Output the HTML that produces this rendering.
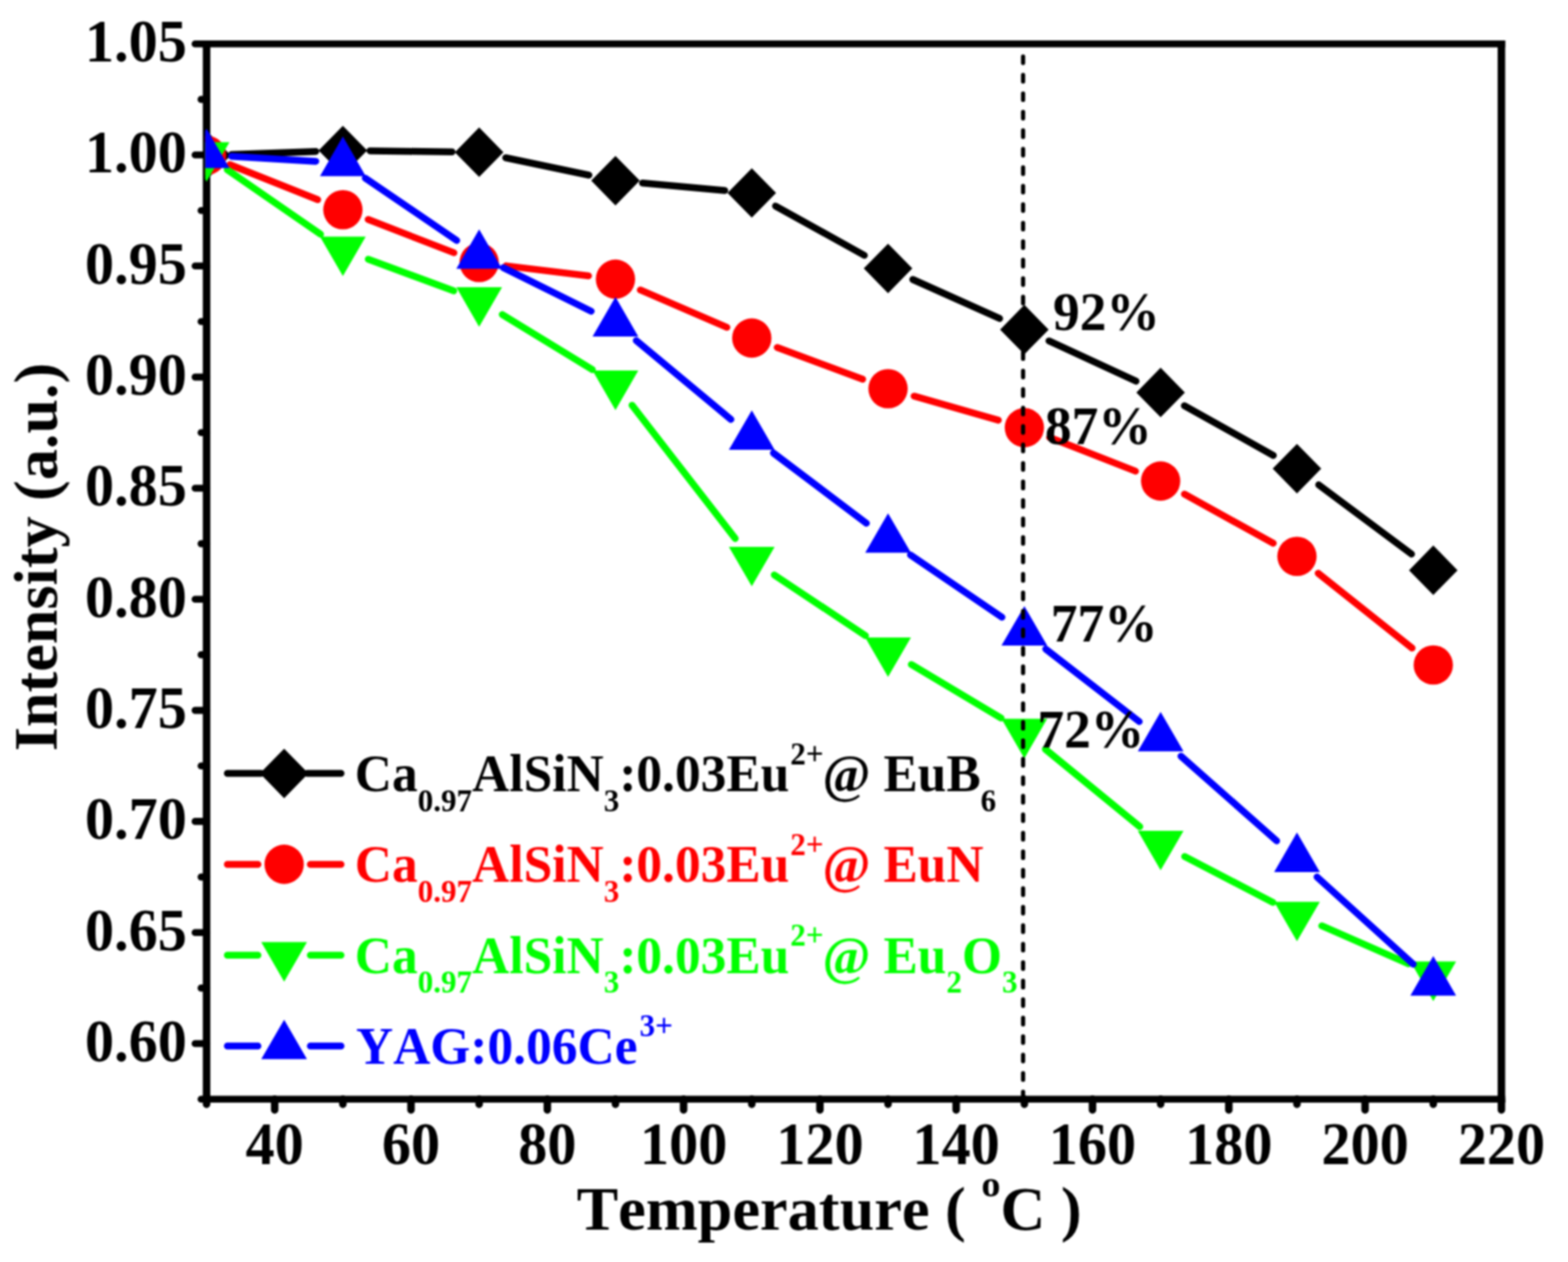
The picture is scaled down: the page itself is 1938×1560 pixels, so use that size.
<!DOCTYPE html>
<html lang="en"><head><meta charset="utf-8"><title>Intensity vs Temperature</title>
<style>
html,body{margin:0;padding:0;background:#fff;}
body{width:1938px;height:1560px;overflow:hidden;}
svg{display:block;filter:blur(0.8px);}
text{font-family:"Liberation Serif", "Times New Roman", Times, serif;font-weight:bold;font-kerning:none;font-variant-ligatures:none;}
</style></head><body>
<svg width="1938" height="1560" viewBox="0 0 1938 1560">
<rect width="1938" height="1560" fill="#fff"/>
<defs><clipPath id="plot"><rect x="253.60" y="49.55" width="1609.70" height="1313.80"/></clipPath></defs>

<path d="M255.3,49.90V1363.00M1855.7,49.90V1363.00" stroke="#000" stroke-width="9.3" fill="none"/>
<path d="M250.65,54.2H1860.35M250.65,1358.7H1860.35" stroke="#000" stroke-width="8.6" fill="none"/>
<path d="M255.3,54.2h-14.2 M255.3,122.9h-6.8 M255.3,191.5h-14.2 M255.3,260.2h-6.8 M255.3,328.8h-14.2 M255.3,397.5h-6.8 M255.3,466.1h-14.2 M255.3,534.8h-6.8 M255.3,603.5h-14.2 M255.3,672.1h-6.8 M255.3,740.8h-14.2 M255.3,809.4h-6.8 M255.3,878.1h-14.2 M255.3,946.8h-6.8 M255.3,1015.4h-14.2 M255.3,1084.1h-6.8 M255.3,1152.7h-14.2 M255.3,1221.4h-6.8 M255.3,1290.0h-14.2 M255.3,1358.7h-6.8" stroke="#000" stroke-width="8.6" fill="none" stroke-linecap="round"/>
<path d="M255.3,1358.7v6.3 M339.5,1358.7v13.3 M423.8,1358.7v6.3 M508.0,1358.7v13.3 M592.2,1358.7v6.3 M676.5,1358.7v13.3 M760.7,1358.7v6.3 M844.9,1358.7v13.3 M929.2,1358.7v6.3 M1013.4,1358.7v13.3 M1097.6,1358.7v6.3 M1181.8,1358.7v13.3 M1266.1,1358.7v6.3 M1350.3,1358.7v13.3 M1434.5,1358.7v6.3 M1518.8,1358.7v13.3 M1603.0,1358.7v6.3 M1687.2,1358.7v13.3 M1771.5,1358.7v6.3 M1855.7,1358.7v13.3" stroke="#000" stroke-width="9.3" fill="none" stroke-linecap="round"/>
<text transform="translate(231,76.0) scale(1,1.015)" font-size="72" text-anchor="end">1.05</text>
<text transform="translate(231,213.3) scale(1,1.015)" font-size="72" text-anchor="end">1.00</text>
<text transform="translate(231,350.6) scale(1,1.015)" font-size="72" text-anchor="end">0.95</text>
<text transform="translate(231,487.9) scale(1,1.015)" font-size="72" text-anchor="end">0.90</text>
<text transform="translate(231,625.3) scale(1,1.015)" font-size="72" text-anchor="end">0.85</text>
<text transform="translate(231,762.6) scale(1,1.015)" font-size="72" text-anchor="end">0.80</text>
<text transform="translate(231,899.9) scale(1,1.015)" font-size="72" text-anchor="end">0.75</text>
<text transform="translate(231,1037.2) scale(1,1.015)" font-size="72" text-anchor="end">0.70</text>
<text transform="translate(231,1174.5) scale(1,1.015)" font-size="72" text-anchor="end">0.65</text>
<text transform="translate(231,1311.8) scale(1,1.015)" font-size="72" text-anchor="end">0.60</text>
<text transform="translate(339.5,1439) scale(1,1.015)" font-size="72" text-anchor="middle">40</text>
<text transform="translate(508.0,1439) scale(1,1.015)" font-size="72" text-anchor="middle">60</text>
<text transform="translate(676.5,1439) scale(1,1.015)" font-size="72" text-anchor="middle">80</text>
<text transform="translate(844.9,1439) scale(1,1.015)" font-size="72" text-anchor="middle">100</text>
<text transform="translate(1013.4,1439) scale(1,1.015)" font-size="72" text-anchor="middle">120</text>
<text transform="translate(1181.8,1439) scale(1,1.015)" font-size="72" text-anchor="middle">140</text>
<text transform="translate(1350.3,1439) scale(1,1.015)" font-size="72" text-anchor="middle">160</text>
<text transform="translate(1518.8,1439) scale(1,1.015)" font-size="72" text-anchor="middle">180</text>
<text transform="translate(1687.2,1439) scale(1,1.015)" font-size="72" text-anchor="middle">200</text>
<text transform="translate(1855.7,1439) scale(1,1.015)" font-size="72" text-anchor="middle">220</text>
<text x="1024.8" y="1520.2" font-size="77" text-anchor="middle" xml:space="preserve">Temperature ( <tspan font-size="47" dy="-41">o</tspan><tspan dy="41">C )</tspan></text>
<text transform="translate(70,688.5) rotate(-90)" font-size="76.8" text-anchor="middle">Intensity (a.u.)</text>
<g clip-path="url(#plot)">
<path d="M286.3,190.9L390.3,187.2 M457.3,186.4L558.7,187.8 M625.0,195.0L727.9,216.5 M794.1,226.3L895.8,235.5 M958.5,254.7L1068.3,315.6 M1128.2,345.5L1235.5,393.7 M1296.5,421.4L1404.1,471.2 M1463.8,501.5L1573.8,563.0 M1629.9,599.3L1744.6,684.9" stroke="#000000" stroke-width="8.5" fill="none" stroke-linecap="round"/>
<polygon points="255.3,161.4 285.3,192.0 255.3,222.6 225.3,192.0" fill="#000000"/>
<polygon points="423.8,155.4 453.8,186.0 423.8,216.6 393.8,186.0" fill="#000000"/>
<polygon points="592.2,157.6 622.2,188.2 592.2,218.8 562.2,188.2" fill="#000000"/>
<polygon points="760.7,192.7 790.7,223.3 760.7,253.9 730.7,223.3" fill="#000000"/>
<polygon points="929.2,207.9 959.2,238.5 929.2,269.1 899.2,238.5" fill="#000000"/>
<polygon points="1097.6,301.2 1127.6,331.8 1097.6,362.4 1067.6,331.8" fill="#000000"/>
<polygon points="1266.1,376.8 1296.1,407.4 1266.1,438.0 1236.1,407.4" fill="#000000"/>
<polygon points="1434.5,454.6 1464.5,485.2 1434.5,515.8 1404.5,485.2" fill="#000000"/>
<polygon points="1603.0,548.7 1633.0,579.3 1603.0,609.9 1573.0,579.3" fill="#000000"/>
<polygon points="1771.5,674.3 1801.5,704.9 1771.5,735.5 1741.5,704.9" fill="#000000"/>
<path d="M284.1,203.5L392.6,246.8 M455.0,271.3L561.0,312.4 M625.5,328.6L727.4,341.0 M791.4,358.4L898.4,404.6 M960.6,429.6L1066.2,468.8 M1129.8,489.7L1233.9,519.4 M1297.3,540.8L1403.4,582.4 M1463.9,610.8L1573.7,671.5 M1629.2,708.6L1745.3,801.1" stroke="#ff0000" stroke-width="8.5" fill="none" stroke-linecap="round"/>
<circle cx="255.3" cy="192.0" r="24.3" fill="#ff0000"/>
<circle cx="423.8" cy="259.2" r="24.3" fill="#ff0000"/>
<circle cx="592.2" cy="324.5" r="24.3" fill="#ff0000"/>
<circle cx="760.7" cy="345.1" r="24.3" fill="#ff0000"/>
<circle cx="929.2" cy="417.9" r="24.3" fill="#ff0000"/>
<circle cx="1097.6" cy="480.5" r="24.3" fill="#ff0000"/>
<circle cx="1266.1" cy="528.6" r="24.3" fill="#ff0000"/>
<circle cx="1434.5" cy="594.6" r="24.3" fill="#ff0000"/>
<circle cx="1603.0" cy="687.7" r="24.3" fill="#ff0000"/>
<circle cx="1771.5" cy="822.0" r="24.3" fill="#ff0000"/>
<path d="M280.8,209.7L396.2,289.6 M455.2,320.4L560.8,359.6 M620.8,388.8L732.1,456.9 M781.2,500.9L908.7,665.7 M957.0,710.7L1069.7,785.7 M1126.4,821.4L1237.3,887.6 M1292.0,926.1L1408.7,1021.9 M1464.2,1058.7L1573.3,1115.5 M1633.7,1144.4L1740.8,1191.4" stroke="#00ff00" stroke-width="8.5" fill="none" stroke-linecap="round"/>
<polygon points="255.3,224.6 283.6,175.7 227.1,175.7" fill="#00ff00"/>
<polygon points="423.8,341.3 452.0,292.4 395.5,292.4" fill="#00ff00"/>
<polygon points="592.2,403.9 620.5,355.0 564.0,355.0" fill="#00ff00"/>
<polygon points="760.7,507.0 788.9,458.1 732.4,458.1" fill="#00ff00"/>
<polygon points="929.2,724.8 957.4,675.9 900.9,675.9" fill="#00ff00"/>
<polygon points="1097.6,836.8 1125.9,787.9 1069.4,787.9" fill="#00ff00"/>
<polygon points="1266.1,937.4 1294.3,888.5 1237.8,888.5" fill="#00ff00"/>
<polygon points="1434.5,1075.8 1462.8,1026.9 1406.3,1026.9" fill="#00ff00"/>
<polygon points="1603.0,1163.6 1631.3,1114.7 1574.8,1114.7" fill="#00ff00"/>
<polygon points="1771.5,1237.4 1799.7,1188.5 1743.2,1188.5" fill="#00ff00"/>
<path d="M286.2,193.3L390.3,199.4 M451.5,220.2L564.5,297.2 M622.2,330.9L730.7,384.7 M786.4,421.0L903.4,518.4 M955.9,560.0L1070.9,646.8 M1125.3,685.9L1238.4,762.9 M1292.5,802.3L1408.1,892.0 M1459.6,934.7L1577.9,1039.4 M1627.8,1084.1L1746.7,1191.9" stroke="#0000ff" stroke-width="8.5" fill="none" stroke-linecap="round"/>
<polygon points="255.3,158.9 283.6,207.8 227.1,207.8" fill="#0000ff"/>
<polygon points="423.8,168.8 452.0,217.7 395.5,217.7" fill="#0000ff"/>
<polygon points="592.2,283.4 620.5,332.3 564.0,332.3" fill="#0000ff"/>
<polygon points="760.7,367.0 788.9,415.9 732.4,415.9" fill="#0000ff"/>
<polygon points="929.2,507.2 957.4,556.1 900.9,556.1" fill="#0000ff"/>
<polygon points="1097.6,634.4 1125.9,683.3 1069.4,683.3" fill="#0000ff"/>
<polygon points="1266.1,749.2 1294.3,798.1 1237.8,798.1" fill="#0000ff"/>
<polygon points="1434.5,879.9 1462.8,928.8 1406.3,928.8" fill="#0000ff"/>
<polygon points="1603.0,1029.0 1631.3,1077.9 1574.8,1077.9" fill="#0000ff"/>
<polygon points="1771.5,1181.8 1799.7,1230.7 1743.2,1230.7" fill="#0000ff"/>
</g>
<line x1="1264.5" y1="69.80" x2="1264.5" y2="1358.7" stroke="#000" stroke-width="5.2" stroke-linecap="round" stroke-dasharray="8.0 14.853"/>
<text transform="translate(1301.5,407.9) scale(1,1.02)" font-size="66">92%</text>
<text transform="translate(1291.5,548.6) scale(1,1.02)" font-size="66">87%</text>
<text transform="translate(1298.7,792.7) scale(1,1.02)" font-size="66">77%</text>
<text transform="translate(1282.3,924.2) scale(1,1.02)" font-size="66">72%</text>
<path d="M281,956.1H322.7M379.7,956.1H421.5" stroke="#000000" stroke-width="8.5" stroke-linecap="round" fill="none"/>
<polygon points="351.2,925.5 381.2,956.1 351.2,986.7 321.2,956.1" fill="#000000"/>
<text transform="translate(438.5,978) scale(1,1.035)" font-size="63.6" fill="#000000" xml:space="preserve">Ca<tspan font-size="38.5" dx="0" dy="24.0">0.97</tspan><tspan dx="0" dy="-24.0">AlSiN</tspan><tspan font-size="38.5" dx="0" dy="24.0">3</tspan><tspan dx="0" dy="-24.0">:0.03Eu</tspan><tspan font-size="38.5" dx="1" dy="-32.3">2+</tspan><tspan dx="-1" dy="32.3">@ </tspan>EuB<tspan font-size="38.5" dx="0" dy="24.0">6</tspan></text>
<path d="M281,1068.4H318.8M383.6,1068.4H421.5" stroke="#ff0000" stroke-width="8.5" stroke-linecap="round" fill="none"/>
<circle cx="351.2" cy="1068.4" r="24.3" fill="#ff0000"/>
<text transform="translate(438.5,1090.3) scale(1,1.035)" font-size="63.6" fill="#ff0000" xml:space="preserve">Ca<tspan font-size="38.5" dx="0" dy="24.0">0.97</tspan><tspan dx="0" dy="-24.0">AlSiN</tspan><tspan font-size="38.5" dx="0" dy="24.0">3</tspan><tspan dx="0" dy="-24.0">:0.03Eu</tspan><tspan font-size="38.5" dx="1" dy="-32.3">2+</tspan><tspan dx="-1" dy="32.3">@ </tspan>EuN</text>
<path d="M281,1180.8H318.8M383.6,1180.8H421.5" stroke="#00ff00" stroke-width="8.5" stroke-linecap="round" fill="none"/>
<polygon points="351.2,1213.4 379.4,1164.5 322.9,1164.5" fill="#00ff00"/>
<text transform="translate(438.5,1202.5) scale(1,1.035)" font-size="63.6" fill="#00ff00" xml:space="preserve">Ca<tspan font-size="38.5" dx="0" dy="24.0">0.97</tspan><tspan dx="0" dy="-24.0">AlSiN</tspan><tspan font-size="38.5" dx="0" dy="24.0">3</tspan><tspan dx="0" dy="-24.0">:0.03Eu</tspan><tspan font-size="38.5" dx="1" dy="-32.3">2+</tspan><tspan dx="-1" dy="32.3">@ </tspan>Eu<tspan font-size="38.5" dx="0" dy="24.0">2</tspan><tspan dx="0" dy="-24.0">O</tspan><tspan font-size="38.5" dx="0" dy="24.0">3</tspan></text>
<path d="M281,1293.0H318.8M383.6,1293.0H421.5" stroke="#0000ff" stroke-width="8.5" stroke-linecap="round" fill="none"/>
<polygon points="351.2,1260.4 379.4,1309.3 322.9,1309.3" fill="#0000ff"/>
<text transform="translate(440,1314.5) scale(1,1.035)" font-size="63.6" fill="#0000ff" xml:space="preserve">YAG:0.06Ce<tspan font-size="38.5" dx="2.5" dy="-32.3">3+</tspan></text>
</svg>
</body></html>
